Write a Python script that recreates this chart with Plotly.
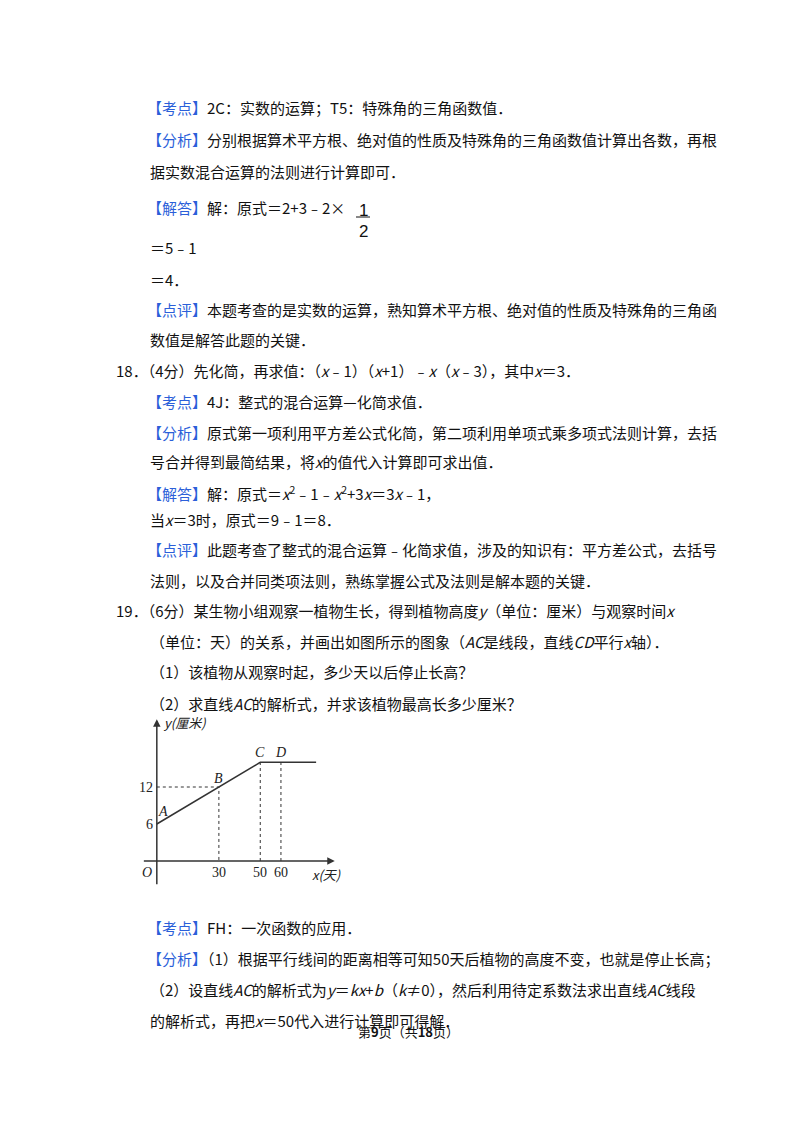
import plotly.graph_objects as go

# growth chart data
line_x = [0, 30, 50, 77]
line_y = [6, 12, 16, 16]
x_ticks = [30, 50, 60]
y_ticks = [6, 12]
point_names = ['A', 'B', 'C', 'D']
point_x = [3, 30, 50, 60]
point_y = [8, 13.4, 17.6, 17.6]

BLUE = '#2b5fd9'
DY = 8  # vertical correction for text baseline


def tag(s):
    return '<span style="color:%s">【%s】</span>' % (BLUE, s)


# page text: (left px, top px, html)
text_lines = [
    (137, 108, tag('考点') + '2C：实数的运算；T5：特殊角的三角函数值．'),
    (137, 139, tag('分析') + '分别根据算术平方根、绝对值的性质及特殊角的三角函数值计算出各数，再根'),
    (140, 171, '据实数混合运算的法则进行计算即可．'),
    (137, 207, tag('解答') + '解：原式＝2+3﹣2×'),
    (140, 248, '＝5﹣1'),
    (140, 280, '＝4．'),
    (137, 309, tag('点评') + '本题考查的是实数的运算，熟知算术平方根、绝对值的性质及特殊角的三角函'),
    (140, 340, '数值是解答此题的关键．'),
    (106, 370, '18．（4分）先化简，再求值：（<i>x</i>﹣1）（<i>x</i>+1）﹣<i>x</i>（<i>x</i>﹣3），其中<i>x</i>＝3．'),
    (137, 401, tag('考点') + '4J：整式的混合运算—化简求值．'),
    (137, 432, tag('分析') + '原式第一项利用平方差公式化简，第二项利用单项式乘多项式法则计算，去括'),
    (140, 462, '号合并得到最简结果，将<i>x</i>的值代入计算即可求出值．'),
    (137, 493, tag('解答') + '解：原式＝<i>x</i><sup>2</sup>﹣1﹣<i>x</i><sup>2</sup>+3<i>x</i>＝3<i>x</i>﹣1，'),
    (140, 519, '当<i>x</i>＝3时，原式＝9﹣1＝8．'),
    (137, 549, tag('点评') + '此题考查了整式的混合运算﹣化简求值，涉及的知识有：平方差公式，去括号'),
    (140, 580, '法则，以及合并同类项法则，熟练掌握公式及法则是解本题的关键．'),
    (106, 610, '19．（6分）某生物小组观察一植物生长，得到植物高度<i>y</i>（单位：厘米）与观察时间<i>x</i>'),
    (140, 641, '（单位：天）的关系，并画出如图所示的图象（<i>AC</i>是线段，直线<i>CD</i>平行<i>x</i>轴）．'),
    (140, 672, '（1）该植物从观察时起，多少天以后停止长高？'),
    (140, 703, '（2）求直线<i>AC</i>的解析式，并求该植物最高长多少厘米？'),
    (137, 927, tag('考点') + 'FH：一次函数的应用．'),
    (137, 958, tag('分析') + '（1）根据平行线间的距离相等可知50天后植物的高度不变，也就是停止长高；'),
    (140, 989, '（2）设直线<i>AC</i>的解析式为<i>y</i>＝<i>kx</i>+<i>b</i>（<i>k</i>≠0），然后利用待定系数法求出直线<i>AC</i>线段'),
    (140, 1020, '的解析式，再把<i>x</i>＝50代入进行计算即可得解．'),
]

W, H = 800, 1132
FONT = 'Noto Sans CJK SC, Liberation Serif'

fig = go.Figure()

# line A-B-C-D and beyond
fig.add_trace(go.Scatter(x=line_x, y=line_y, mode='lines',
                         line=dict(color='#333', width=1.5), hoverinfo='skip'))
# dashed guide lines
fig.add_trace(go.Scatter(x=[0, line_x[1], line_x[1]], y=[line_y[1], line_y[1], 0], mode='lines',
                         line=dict(color='#333', width=1, dash='3px,3px'), hoverinfo='skip'))
for xv in x_ticks[1:]:
    fig.add_trace(go.Scatter(x=[xv, xv], y=[0, line_y[2]], mode='lines',
                             line=dict(color='#333', width=1, dash='3px,3px'), hoverinfo='skip'))

ann = []
# axes with arrows
ann.append(dict(x=86, y=0, ax=-7, ay=0, xref='x', yref='y', axref='x', ayref='y',
                showarrow=True, arrowhead=2, arrowsize=1, arrowwidth=1.5, arrowcolor='#333', text=''))
ann.append(dict(x=0, y=23, ax=0, ay=-4, xref='x', yref='y', axref='x', ayref='y',
                showarrow=True, arrowhead=2, arrowsize=1, arrowwidth=1.5, arrowcolor='#333', text=''))
serif = dict(family='Liberation Serif', size=14, color='#222')
for xv in x_ticks:
    ann.append(dict(x=xv, y=-1.9, xref='x', yref='y', text=str(xv), showarrow=False,
                    yanchor='middle', font=serif))
for yv in y_ticks:
    ann.append(dict(x=-1, y=yv, xref='x', yref='y', text=str(yv), showarrow=False,
                    xanchor='right', font=serif))
ann.append(dict(x=-1.5, y=-1.9, xref='x', yref='y', text='<i>O</i>', showarrow=False,
                xanchor='right', yanchor='middle', font=serif))
for n, px, py in zip(point_names, point_x, point_y):
    ann.append(dict(x=px, y=py, xref='x', yref='y', text='<i>%s</i>' % n, showarrow=False, font=serif))
ann.append(dict(x=2, y=22.5, xref='x', yref='y', text='<i>y(厘米)</i>', showarrow=False,
                xanchor='left', font=dict(family=FONT, size=13, color='#222')))
ann.append(dict(x=82, y=-2.2, xref='x', yref='y', text='<i>x(天)</i>', showarrow=False,
                xanchor='center', yanchor='middle', font=dict(family=FONT, size=13, color='#222')))

# page text
for px, py, t in text_lines:
    ann.append(dict(x=px / W, y=1 - (py - DY) / H, xref='paper', yref='paper', text=t, showarrow=False,
                    xanchor='left', yanchor='middle', font=dict(family=FONT, size=15, color='#111')))
# fraction 1/2
ann.append(dict(x=355 / W, y=1 - (199 - DY) / H, xref='paper', yref='paper', text='1', showarrow=False,
                font=dict(family='Liberation Sans', size=17, color='#111')))
ann.append(dict(x=355 / W, y=1 - (220 - DY) / H, xref='paper', yref='paper', text='2', showarrow=False,
                font=dict(family='Liberation Sans', size=17, color='#111')))
# footer
ann.append(dict(x=0.5, y=1 - (1043 - DY) / H, xref='paper', yref='paper', showarrow=False,
                text='第<b>9</b>页（共<b>18</b>页）', font=dict(family=FONT, size=13, color='#111')))

shapes = [dict(type='line', xref='paper', yref='paper', x0=348 / W, x1=362 / W,
               y0=1 - 209 / H, y1=1 - 209 / H, line=dict(color='#111', width=1))]

fig.update_layout(
    width=W, height=H, margin=dict(l=0, r=0, t=0, b=0),
    paper_bgcolor='white', plot_bgcolor='white', showlegend=False,
    xaxis=dict(range=[-12, 90], domain=[124 / W, 335 / W], visible=False, fixedrange=True),
    yaxis=dict(range=[-6, 24], domain=[1 - 890 / H, 1 - 705 / H], visible=False, fixedrange=True),
    annotations=ann, shapes=shapes,
)

fig.write_html('out.html')
